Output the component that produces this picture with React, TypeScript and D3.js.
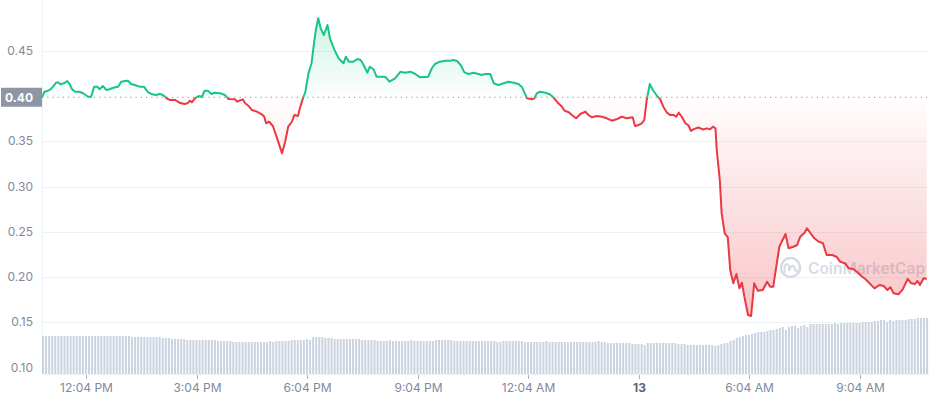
import React from "react";
import * as d3 from "d3";

const W = 929;
const H = 400;
const START = new Date(2023, 5, 12, 10, 52);
const SPAN_MIN = 1441;

const minutes = [
  0, 4, 10, 14, 18, 23, 26, 30, 36, 41, 45, 49, 54, 61, 67, 75, 80, 85, 90, 94,
  99, 105, 110, 116, 124, 129, 135, 140, 145, 151, 159, 166, 173, 178, 185, 192, 197, 203, 208, 217,
  224, 232, 237, 241, 244, 249, 253, 257, 260, 265, 270, 276, 281, 290, 298, 304, 314, 318, 321, 327,
  331, 336, 342, 350, 358, 362, 365, 370, 376, 382, 391, 396, 401, 407, 411, 417, 420, 425, 429, 434,
  439, 443, 446, 450, 454, 459, 465, 469, 476, 483, 491, 495, 500, 507, 514, 519, 523, 530, 534, 540,
  545, 556, 560, 566, 575, 584, 591, 600, 608, 616, 629, 635, 640, 648, 657, 665, 670, 676, 682, 688,
  695, 703, 711, 716, 722, 730, 736, 743, 752, 760, 768, 776, 782, 790, 798, 802, 806, 811, 820, 827,
  833, 841, 847, 851, 858, 863, 870, 877, 885, 890, 896, 904, 912, 920, 928, 936, 944, 953, 962, 966,
  972, 977, 981, 985, 990, 995, 1002, 1007, 1012, 1018, 1023, 1029, 1033, 1037, 1042, 1048, 1053, 1057, 1061, 1069,
  1077, 1083, 1088, 1093, 1097, 1099, 1104, 1107, 1112, 1117, 1121, 1126, 1131, 1136, 1140, 1144, 1150, 1155, 1160, 1166,
  1174, 1181, 1186, 1191, 1201, 1211, 1216, 1224, 1230, 1235, 1242, 1246, 1252, 1258, 1265, 1272, 1278, 1287, 1294, 1300,
  1308, 1314, 1322, 1327, 1336, 1341, 1348, 1356, 1364, 1371, 1377, 1382, 1387, 1395, 1402, 1410, 1416, 1422, 1426, 1430,
  1436, 1441,
];

const prices = [
  0.3985, 0.4046, 0.4057, 0.4073, 0.4102, 0.4146, 0.415, 0.4128, 0.4139, 0.4164, 0.4131, 0.4073, 0.4046, 0.4046, 0.4029, 0.3991, 0.3991, 0.4102, 0.4102, 0.4073,
  0.4109, 0.4065, 0.4073, 0.409, 0.4102, 0.4157, 0.4164, 0.4168, 0.4131, 0.412, 0.4102, 0.4102, 0.404, 0.4021, 0.401, 0.4021, 0.401, 0.3973, 0.3955, 0.3955,
  0.3925, 0.3911, 0.3918, 0.3947, 0.3929, 0.3973, 0.3991, 0.3999, 0.3985, 0.4057, 0.4057, 0.4021, 0.4035, 0.4029, 0.401, 0.3966, 0.3962, 0.3936, 0.3947, 0.3962,
  0.3918, 0.3892, 0.3844, 0.3826, 0.3797, 0.377, 0.3698, 0.3715, 0.3668, 0.355, 0.3366, 0.3494, 0.366, 0.3715, 0.3789, 0.3778, 0.3863, 0.3973, 0.4046, 0.4249,
  0.436, 0.4581, 0.4727, 0.4857, 0.4746, 0.4672, 0.4783, 0.4636, 0.4514, 0.4415, 0.436, 0.4433, 0.4378, 0.4378, 0.4407, 0.4396, 0.4352, 0.4256, 0.4322, 0.4294,
  0.4212, 0.4212, 0.4205, 0.4157, 0.4194, 0.4267, 0.4256, 0.4267, 0.4242, 0.4205, 0.4212, 0.4305, 0.4352, 0.4378, 0.4389, 0.4389, 0.4396, 0.4385, 0.4341, 0.426,
  0.4242, 0.4256, 0.4242, 0.4231, 0.4242, 0.4242, 0.4139, 0.412, 0.4139, 0.4157, 0.4146, 0.4131, 0.4095, 0.3973, 0.3962, 0.3973, 0.4029, 0.4046, 0.4035, 0.4018,
  0.3985, 0.3918, 0.3881, 0.3837, 0.3819, 0.3789, 0.3753, 0.38, 0.3826, 0.3789, 0.3764, 0.3778, 0.377, 0.3753, 0.3726, 0.3742, 0.377, 0.3753, 0.3764, 0.3668,
  0.3679, 0.3698, 0.3734, 0.3955, 0.4131, 0.4065, 0.3999, 0.3962, 0.3881, 0.3815, 0.3789, 0.3789, 0.377, 0.3815, 0.377, 0.3698, 0.3673, 0.3613, 0.3631, 0.3651,
  0.3629, 0.3642, 0.3631, 0.366, 0.3642, 0.3403, 0.3072, 0.2704, 0.2483, 0.2439, 0.2078, 0.1931, 0.2034, 0.1876, 0.1938, 0.1784, 0.1582, 0.1571, 0.1931, 0.185,
  0.1858, 0.1949, 0.1894, 0.1894, 0.2335, 0.2476, 0.2318, 0.2335, 0.2354, 0.2446, 0.249, 0.2539, 0.2483, 0.2428, 0.2391, 0.2373, 0.2244, 0.2244, 0.2225, 0.217,
  0.2152, 0.2097, 0.2086, 0.2059, 0.2004, 0.1979, 0.1931, 0.1876, 0.1913, 0.1902, 0.1858, 0.1887, 0.1821, 0.181, 0.1865, 0.1979, 0.1931, 0.1924, 0.1957, 0.1913,
  0.1987, 0.1979,
];

// volume per 5-minute bar (arbitrary units, M)
const volumes = [
  38, 38, 38, 38, 38, 38, 38, 38, 38, 38, 38, 38, 38, 38, 38, 38, 38, 38, 38, 38,
  38, 38, 38, 38, 38, 38, 38, 38, 38, 37, 37, 37, 37, 37, 37, 37, 37, 37, 37, 36,
  36, 36, 35, 35, 35, 35, 35, 34, 34, 34, 34, 34, 34, 34, 34, 34, 34, 33, 33, 33,
  33, 33, 32, 32, 32, 32, 32, 32, 32, 32, 32, 32, 32, 32, 33, 32, 33, 33, 33, 33,
  33, 34, 34, 34, 34, 34, 35, 34, 37, 37, 37, 37, 36, 36, 36, 35, 35, 35, 35, 35,
  35, 35, 35, 35, 34, 34, 34, 34, 34, 33, 33, 33, 33, 34, 33, 33, 33, 33, 33, 33,
  34, 33, 33, 33, 33, 33, 33, 33, 34, 34, 34, 34, 34, 34, 33, 33, 33, 33, 33, 33,
  33, 33, 33, 33, 33, 33, 33, 33, 32, 32, 33, 33, 33, 33, 33, 33, 33, 32, 32, 32,
  32, 32, 32, 32, 33, 32, 32, 32, 32, 32, 32, 32, 32, 32, 32, 32, 32, 32, 32, 32,
  32, 33, 32, 32, 31, 31, 31, 31, 31, 31, 31, 31, 30, 30, 30, 30, 29, 31, 31, 31,
  31, 31, 31, 31, 31, 31, 31, 30, 30, 30, 29, 29, 29, 29, 29, 29, 29, 29, 29, 28,
  29, 30, 31, 31, 33, 34, 36, 37, 38, 39, 39, 40, 41, 42, 42, 42, 43, 44, 44, 45,
  46, 47, 44, 47, 48, 48, 46, 48, 49, 47, 50, 50, 50, 50, 50, 50, 50, 50, 51, 50,
  51, 51, 51, 51, 51, 51, 51, 52, 52, 52, 52, 53, 53, 54, 54, 52, 54, 53, 54, 54,
  54, 54, 55, 55, 55, 56, 56, 56, 56,
];

const yTicks = [0.1, 0.15, 0.2, 0.25, 0.3, 0.35, 0.45];
const xTickMinutes = [72, 252, 432, 612, 792, 972, 1152, 1332];
const xTickLabels = ["12:04 PM", "3:04 PM", "6:04 PM", "9:04 PM", "12:04 AM", "13", "6:04 AM", "9:04 AM"];
const xTickBold = [false, false, false, false, false, true, false, false];
const baseline = 0.3985;
const baselineLabel = "0.40";

const GREEN = "#16c784";
const RED = "#ea3943";
const FONT = "Inter, 'Noto Sans', sans-serif";

const tAt = (m: number) => new Date(START.getTime() + m * 60000);

export default function App() {
  const left = 42;
  const right = W;
  const axisY = 374;

  const x = d3.scaleTime().domain([START, tAt(SPAN_MIN)]).range([42, 926.7]);
  const y = d3.scaleLinear().domain([0.1, 0.45]).range([367.7, 50.6]);
  const vy = d3.scaleLinear().domain([0, 100]).range([axisY, axisY - 100]);

  const pts = minutes.map((m, i) => ({ t: tAt(m), p: prices[i] }));
  const by = y(baseline);

  const line = d3
    .line<{ t: Date; p: number }>()
    .x((d) => x(d.t))
    .y((d) => y(d.p));
  const area = d3
    .area<{ t: Date; p: number }>()
    .x((d) => x(d.t))
    .y0(by)
    .y1((d) => y(d.p));

  const linePath = line(pts) || "";
  const areaPath = area(pts) || "";

  return (
    <div style={{ position: "fixed", left: 0, top: 0, width: W, height: H, background: "#fff" }}>
      <svg width={W} height={H} style={{ display: "block" }}>
        <defs>
          <clipPath id="clipUp">
            <rect x={0} y={0} width={W} height={by} />
          </clipPath>
          <clipPath id="clipDown">
            <rect x={0} y={by} width={W} height={H - by} />
          </clipPath>
          <linearGradient id="gGreen" gradientUnits="userSpaceOnUse" x1={0} y1={y(0.49)} x2={0} y2={by}>
            <stop offset="0%" stopColor={GREEN} stopOpacity={0.22} />
            <stop offset="100%" stopColor={GREEN} stopOpacity={0.01} />
          </linearGradient>
          <linearGradient id="gRed" gradientUnits="userSpaceOnUse" x1={0} y1={by} x2={0} y2={y(0.1)}>
            <stop offset="0%" stopColor={RED} stopOpacity={0.01} />
            <stop offset="100%" stopColor={RED} stopOpacity={0.36} />
          </linearGradient>
        </defs>

        {/* grid */}
        {yTicks.map((v) => (
          <line key={v} x1={left} x2={right} y1={Math.round(y(v)) + 0.5} y2={Math.round(y(v)) + 0.5} stroke="#eff2f5" strokeWidth={1} />
        ))}
        <line x1={left + 0.5} x2={left + 0.5} y1={0} y2={axisY} stroke="#eff2f5" />

        {/* volume bars */}
        {volumes.map((v, i) => {
          const bx = x(tAt(i * 5));
          return <rect key={i} x={bx} y={vy(v)} width={2} height={axisY - vy(v)} fill="#cbd3e1" />;
        })}

        {/* x axis */}
        <line x1={left} x2={right} y1={axisY + 0.5} y2={axisY + 0.5} stroke="#eff2f5" />
        {xTickMinutes.map((m, i) => {
          const tx = Math.round(x(tAt(m))) + 0.5;
          return (
            <g key={m}>
              <line x1={tx} x2={tx} y1={axisY + 1} y2={axisY + 5} stroke="#a6b0c3" />
              <text
                x={tx}
                y={392}
                textAnchor="middle"
                fontFamily={FONT}
                fontSize={12}
                fontWeight={xTickBold[i] ? 700 : 400}
                fill={xTickBold[i] ? "#58667e" : "#808a9d"}
              >
                {xTickLabels[i]}
              </text>
            </g>
          );
        })}

        {/* y labels */}
        {yTicks.map((v) => (
          <text key={v} x={33} y={y(v) + 4} textAnchor="end" fontFamily={FONT} fontSize={12} fill="#808a9d">
            {v.toFixed(2)}
          </text>
        ))}

        {/* watermark */}
        <g opacity={0.85}>
          <circle cx={790.5} cy={267.5} r={9.5} fill="none" stroke="#cfd6e2" strokeWidth={2.4} />
          <path d="M784.5 272 L784.5 266 Q787 262 789 266 L789 271 Q791.5 263 794 267 L795 270 Q796 272 797.5 270.5" fill="none" stroke="#cfd6e2" strokeWidth={2} strokeLinecap="round" />
          <text x={808} y={273.5} fontFamily={FONT} fontSize={15.5} fontWeight={600} fill="#cfd6e2">
            CoinMarketCap
          </text>
        </g>

        {/* areas */}
        <path d={areaPath} fill="url(#gGreen)" clipPath="url(#clipUp)" />
        <path d={areaPath} fill="url(#gRed)" clipPath="url(#clipDown)" />

        {/* baseline */}
        <line x1={left} x2={right} y1={by} y2={by} stroke="#8c93a1" strokeWidth={1} strokeDasharray="1.2 4" />

        {/* lines */}
        <path d={linePath} fill="none" stroke={GREEN} strokeWidth={2} strokeLinejoin="round" clipPath="url(#clipUp)" />
        <path d={linePath} fill="none" stroke={RED} strokeWidth={2} strokeLinejoin="round" clipPath="url(#clipDown)" />

        {/* baseline label */}
        <rect x={1} y={by - 9.5} width={left - 1} height={19} fill="#8f96a3" />
        <text x={33} y={by + 4.5} textAnchor="end" fontFamily={FONT} fontSize={12} fontWeight={700} fill="#fff">
          {baselineLabel}
        </text>
      </svg>
    </div>
  );
}
